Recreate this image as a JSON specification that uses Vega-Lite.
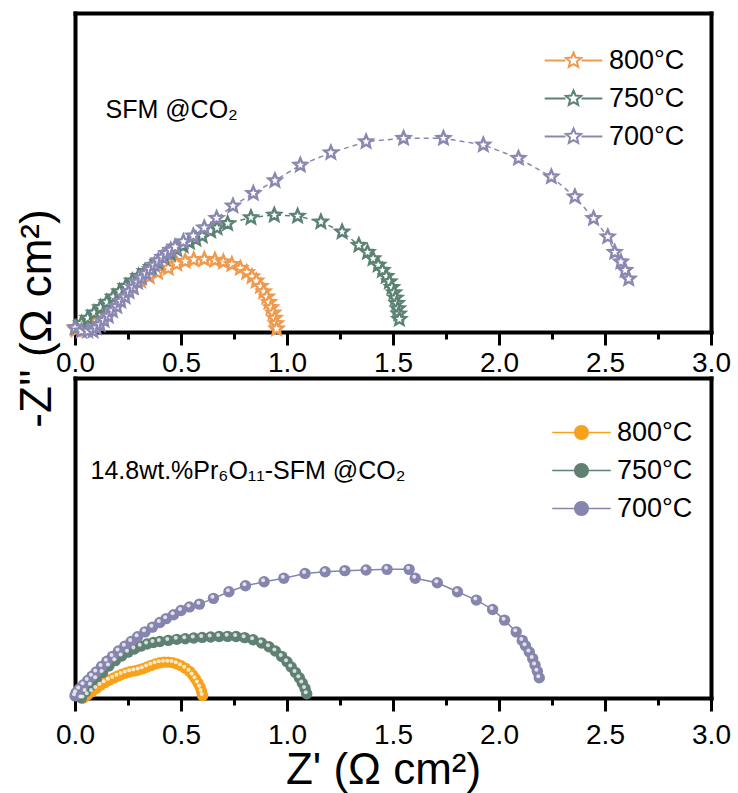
{
  "$schema": "https://vega.github.io/schema/vega-lite/v6.json",
  "autosize": {"type": "none"},
  "padding": {"left": 75, "top": 13, "right": 27, "bottom": 95},
  "width": 636,
  "height": 685,
  "config": {
    "font": "Liberation Sans",
    "view": {"stroke": null},
    "axis": {"labelFont": "Liberation Sans", "titleFont": "Liberation Sans", "labelColor": "black", "titleColor": "black", "titleFontWeight": "normal"},
    "legend": {"labelFont": "Liberation Sans", "labelColor": "black", "labelFontSize": 27, "rowPadding": 10, "symbolOpacity": 1}
  },
  "datasets": {
    "top": [
      {"s":"800°C","i":0,"zr":0.005,"zi":0.01},{"s":"800°C","i":1,"zr":0.03,"zi":0.03},{"s":"800°C","i":2,"zr":0.07,"zi":0.06},{"s":"800°C","i":3,"zr":0.11,"zi":0.09},{"s":"800°C","i":4,"zr":0.15,"zi":0.12},{"s":"800°C","i":5,"zr":0.19,"zi":0.15},{"s":"800°C","i":6,"zr":0.23,"zi":0.18},{"s":"800°C","i":7,"zr":0.27,"zi":0.21},{"s":"800°C","i":8,"zr":0.31,"zi":0.24},{"s":"800°C","i":9,"zr":0.35,"zi":0.26},{"s":"800°C","i":10,"zr":0.39,"zi":0.28},{"s":"800°C","i":11,"zr":0.44,"zi":0.30},{"s":"800°C","i":12,"zr":0.48,"zi":0.32},{"s":"800°C","i":13,"zr":0.52,"zi":0.333},{"s":"800°C","i":14,"zr":0.56,"zi":0.34},{"s":"800°C","i":15,"zr":0.61,"zi":0.342},{"s":"800°C","i":16,"zr":0.66,"zi":0.338},{"s":"800°C","i":17,"zr":0.70,"zi":0.33},{"s":"800°C","i":18,"zr":0.74,"zi":0.318},{"s":"800°C","i":19,"zr":0.78,"zi":0.30},{"s":"800°C","i":20,"zr":0.81,"zi":0.28},{"s":"800°C","i":21,"zr":0.835,"zi":0.26},{"s":"800°C","i":22,"zr":0.855,"zi":0.24},{"s":"800°C","i":23,"zr":0.875,"zi":0.215},{"s":"800°C","i":24,"zr":0.89,"zi":0.19},{"s":"800°C","i":25,"zr":0.905,"zi":0.165},{"s":"800°C","i":26,"zr":0.915,"zi":0.14},{"s":"800°C","i":27,"zr":0.925,"zi":0.115},{"s":"800°C","i":28,"zr":0.935,"zi":0.09},{"s":"800°C","i":29,"zr":0.942,"zi":0.065},{"s":"800°C","i":30,"zr":0.948,"zi":0.04},{"s":"800°C","i":31,"zr":0.951,"zi":0.015},
      {"s":"750°C","i":100,"zr":0.005,"zi":0.02},{"s":"750°C","i":101,"zr":0.03,"zi":0.04},{"s":"750°C","i":102,"zr":0.06,"zi":0.065},{"s":"750°C","i":103,"zr":0.09,"zi":0.09},{"s":"750°C","i":104,"zr":0.12,"zi":0.115},{"s":"750°C","i":105,"zr":0.15,"zi":0.14},{"s":"750°C","i":106,"zr":0.18,"zi":0.165},{"s":"750°C","i":107,"zr":0.21,"zi":0.19},{"s":"750°C","i":108,"zr":0.24,"zi":0.215},{"s":"750°C","i":109,"zr":0.27,"zi":0.24},{"s":"750°C","i":110,"zr":0.30,"zi":0.262},{"s":"750°C","i":111,"zr":0.33,"zi":0.285},{"s":"750°C","i":112,"zr":0.36,"zi":0.305},{"s":"750°C","i":113,"zr":0.39,"zi":0.327},{"s":"750°C","i":114,"zr":0.42,"zi":0.347},{"s":"750°C","i":115,"zr":0.45,"zi":0.367},{"s":"750°C","i":116,"zr":0.48,"zi":0.388},{"s":"750°C","i":117,"zr":0.51,"zi":0.405},{"s":"750°C","i":118,"zr":0.54,"zi":0.422},{"s":"750°C","i":119,"zr":0.57,"zi":0.437},{"s":"750°C","i":120,"zr":0.60,"zi":0.452},{"s":"750°C","i":121,"zr":0.64,"zi":0.475},{"s":"750°C","i":122,"zr":0.67,"zi":0.49},{"s":"750°C","i":123,"zr":0.72,"zi":0.51},{"s":"750°C","i":124,"zr":0.83,"zi":0.538},{"s":"750°C","i":125,"zr":0.94,"zi":0.55},{"s":"750°C","i":126,"zr":1.05,"zi":0.545},{"s":"750°C","i":127,"zr":1.16,"zi":0.518},{"s":"750°C","i":128,"zr":1.26,"zi":0.471},{"s":"750°C","i":129,"zr":1.339,"zi":0.408},{"s":"750°C","i":130,"zr":1.38,"zi":0.375},{"s":"750°C","i":131,"zr":1.406,"zi":0.345},{"s":"750°C","i":132,"zr":1.43,"zi":0.315},{"s":"750°C","i":133,"zr":1.45,"zi":0.29},{"s":"750°C","i":134,"zr":1.468,"zi":0.262},{"s":"750°C","i":135,"zr":1.483,"zi":0.237},{"s":"750°C","i":136,"zr":1.495,"zi":0.21},{"s":"750°C","i":137,"zr":1.505,"zi":0.185},{"s":"750°C","i":138,"zr":1.512,"zi":0.16},{"s":"750°C","i":139,"zr":1.518,"zi":0.135},{"s":"750°C","i":140,"zr":1.523,"zi":0.11},{"s":"750°C","i":141,"zr":1.527,"zi":0.085},{"s":"750°C","i":142,"zr":1.53,"zi":0.06},
      {"s":"700°C","i":200,"zr":0.0,"zi":0.02},{"s":"700°C","i":201,"zr":0.03,"zi":0.005},{"s":"700°C","i":202,"zr":0.06,"zi":0.005},{"s":"700°C","i":203,"zr":0.085,"zi":0.005},{"s":"700°C","i":204,"zr":0.10,"zi":0.02},{"s":"700°C","i":205,"zr":0.118,"zi":0.035},{"s":"700°C","i":206,"zr":0.137,"zi":0.055},{"s":"700°C","i":207,"zr":0.157,"zi":0.075},{"s":"700°C","i":208,"zr":0.177,"zi":0.1},{"s":"700°C","i":209,"zr":0.197,"zi":0.12},{"s":"700°C","i":210,"zr":0.216,"zi":0.145},{"s":"700°C","i":211,"zr":0.236,"zi":0.165},{"s":"700°C","i":212,"zr":0.255,"zi":0.19},{"s":"700°C","i":213,"zr":0.275,"zi":0.21},{"s":"700°C","i":214,"zr":0.295,"zi":0.235},{"s":"700°C","i":215,"zr":0.314,"zi":0.255},{"s":"700°C","i":216,"zr":0.334,"zi":0.275},{"s":"700°C","i":217,"zr":0.354,"zi":0.295},{"s":"700°C","i":218,"zr":0.374,"zi":0.315},{"s":"700°C","i":219,"zr":0.393,"zi":0.335},{"s":"700°C","i":220,"zr":0.413,"zi":0.352},{"s":"700°C","i":221,"zr":0.432,"zi":0.37},{"s":"700°C","i":222,"zr":0.452,"zi":0.385},{"s":"700°C","i":223,"zr":0.472,"zi":0.40},{"s":"700°C","i":224,"zr":0.511,"zi":0.425},{"s":"700°C","i":225,"zr":0.558,"zi":0.452},{"s":"700°C","i":226,"zr":0.61,"zi":0.49},{"s":"700°C","i":227,"zr":0.668,"zi":0.535},{"s":"700°C","i":228,"zr":0.745,"zi":0.593},{"s":"700°C","i":229,"zr":0.841,"zi":0.652},{"s":"700°C","i":230,"zr":0.943,"zi":0.712},{"s":"700°C","i":231,"zr":1.063,"zi":0.785},{"s":"700°C","i":232,"zr":1.207,"zi":0.843},{"s":"700°C","i":233,"zr":1.373,"zi":0.895},{"s":"700°C","i":234,"zr":1.55,"zi":0.911},{"s":"700°C","i":235,"zr":1.738,"zi":0.911},{"s":"700°C","i":236,"zr":1.926,"zi":0.88},{"s":"700°C","i":237,"zr":2.092,"zi":0.817},{"s":"700°C","i":238,"zr":2.247,"zi":0.73},{"s":"700°C","i":239,"zr":2.358,"zi":0.636},{"s":"700°C","i":240,"zr":2.446,"zi":0.534},{"s":"700°C","i":241,"zr":2.513,"zi":0.448},{"s":"700°C","i":242,"zr":2.546,"zi":0.375},{"s":"700°C","i":243,"zr":2.575,"zi":0.33},{"s":"700°C","i":244,"zr":2.595,"zi":0.29},{"s":"700°C","i":245,"zr":2.612,"zi":0.25}
    ],
    "bottom": [
      {"s":"800°C","i":0,"zr":0.04,"zi":0.0},{"s":"800°C","i":1,"zr":0.06,"zi":0.015},{"s":"800°C","i":2,"zr":0.08,"zi":0.03},{"s":"800°C","i":3,"zr":0.10,"zi":0.045},{"s":"800°C","i":4,"zr":0.12,"zi":0.06},{"s":"800°C","i":5,"zr":0.14,"zi":0.072},{"s":"800°C","i":6,"zr":0.16,"zi":0.083},{"s":"800°C","i":7,"zr":0.18,"zi":0.093},{"s":"800°C","i":8,"zr":0.20,"zi":0.102},{"s":"800°C","i":9,"zr":0.22,"zi":0.11},{"s":"800°C","i":10,"zr":0.24,"zi":0.117},{"s":"800°C","i":11,"zr":0.26,"zi":0.123},{"s":"800°C","i":12,"zr":0.28,"zi":0.127},{"s":"800°C","i":13,"zr":0.30,"zi":0.131},{"s":"800°C","i":14,"zr":0.32,"zi":0.137},{"s":"800°C","i":15,"zr":0.34,"zi":0.145},{"s":"800°C","i":16,"zr":0.36,"zi":0.153},{"s":"800°C","i":17,"zr":0.38,"zi":0.16},{"s":"800°C","i":18,"zr":0.40,"zi":0.165},{"s":"800°C","i":19,"zr":0.42,"zi":0.168},{"s":"800°C","i":20,"zr":0.44,"zi":0.168},{"s":"800°C","i":21,"zr":0.46,"zi":0.166},{"s":"800°C","i":22,"zr":0.48,"zi":0.16},{"s":"800°C","i":23,"zr":0.50,"zi":0.151},{"s":"800°C","i":24,"zr":0.52,"zi":0.14},{"s":"800°C","i":25,"zr":0.54,"zi":0.125},{"s":"800°C","i":26,"zr":0.555,"zi":0.108},{"s":"800°C","i":27,"zr":0.568,"zi":0.09},{"s":"800°C","i":28,"zr":0.58,"zi":0.07},{"s":"800°C","i":29,"zr":0.59,"zi":0.05},{"s":"800°C","i":30,"zr":0.597,"zi":0.03},{"s":"800°C","i":31,"zr":0.602,"zi":0.012},
      {"s":"750°C","i":100,"zr":0.03,"zi":0.0},{"s":"750°C","i":101,"zr":0.05,"zi":0.03},{"s":"750°C","i":102,"zr":0.075,"zi":0.06},{"s":"750°C","i":103,"zr":0.1,"zi":0.09},{"s":"750°C","i":104,"zr":0.13,"zi":0.12},{"s":"750°C","i":105,"zr":0.16,"zi":0.15},{"s":"750°C","i":106,"zr":0.19,"zi":0.175},{"s":"750°C","i":107,"zr":0.22,"zi":0.197},{"s":"750°C","i":108,"zr":0.25,"zi":0.215},{"s":"750°C","i":109,"zr":0.28,"zi":0.23},{"s":"750°C","i":110,"zr":0.31,"zi":0.243},{"s":"750°C","i":111,"zr":0.34,"zi":0.253},{"s":"750°C","i":112,"zr":0.37,"zi":0.26},{"s":"750°C","i":113,"zr":0.40,"zi":0.265},{"s":"750°C","i":114,"zr":0.44,"zi":0.27},{"s":"750°C","i":115,"zr":0.48,"zi":0.275},{"s":"750°C","i":116,"zr":0.52,"zi":0.278},{"s":"750°C","i":117,"zr":0.56,"zi":0.281},{"s":"750°C","i":118,"zr":0.60,"zi":0.284},{"s":"750°C","i":119,"zr":0.64,"zi":0.286},{"s":"750°C","i":120,"zr":0.68,"zi":0.288},{"s":"750°C","i":121,"zr":0.72,"zi":0.289},{"s":"750°C","i":122,"zr":0.76,"zi":0.288},{"s":"750°C","i":123,"zr":0.80,"zi":0.283},{"s":"750°C","i":124,"zr":0.84,"zi":0.273},{"s":"750°C","i":125,"zr":0.88,"zi":0.258},{"s":"750°C","i":126,"zr":0.915,"zi":0.24},{"s":"750°C","i":127,"zr":0.945,"zi":0.22},{"s":"750°C","i":128,"zr":0.975,"zi":0.195},{"s":"750°C","i":129,"zr":1.0,"zi":0.17},{"s":"750°C","i":130,"zr":1.02,"zi":0.145},{"s":"750°C","i":131,"zr":1.04,"zi":0.12},{"s":"750°C","i":132,"zr":1.058,"zi":0.095},{"s":"750°C","i":133,"zr":1.072,"zi":0.07},{"s":"750°C","i":134,"zr":1.085,"zi":0.045},{"s":"750°C","i":135,"zr":1.093,"zi":0.02},
      {"s":"700°C","i":200,"zr":0.0,"zi":0.01},{"s":"700°C","i":201,"zr":0.005,"zi":0.025},{"s":"700°C","i":202,"zr":0.02,"zi":0.042},{"s":"700°C","i":203,"zr":0.04,"zi":0.062},{"s":"700°C","i":204,"zr":0.06,"zi":0.082},{"s":"700°C","i":205,"zr":0.08,"zi":0.102},{"s":"700°C","i":206,"zr":0.10,"zi":0.122},{"s":"700°C","i":207,"zr":0.125,"zi":0.148},{"s":"700°C","i":208,"zr":0.15,"zi":0.172},{"s":"700°C","i":209,"zr":0.177,"zi":0.195},{"s":"700°C","i":210,"zr":0.205,"zi":0.22},{"s":"700°C","i":211,"zr":0.235,"zi":0.243},{"s":"700°C","i":212,"zr":0.265,"zi":0.265},{"s":"700°C","i":213,"zr":0.295,"zi":0.287},{"s":"700°C","i":214,"zr":0.33,"zi":0.31},{"s":"700°C","i":215,"zr":0.365,"zi":0.332},{"s":"700°C","i":216,"zr":0.40,"zi":0.354},{"s":"700°C","i":217,"zr":0.43,"zi":0.372},{"s":"700°C","i":218,"zr":0.465,"zi":0.39},{"s":"700°C","i":219,"zr":0.50,"zi":0.41},{"s":"700°C","i":220,"zr":0.54,"zi":0.427},{"s":"700°C","i":221,"zr":0.587,"zi":0.44},{"s":"700°C","i":222,"zr":0.653,"zi":0.467},{"s":"700°C","i":223,"zr":0.726,"zi":0.498},{"s":"700°C","i":224,"zr":0.804,"zi":0.526},{"s":"700°C","i":225,"zr":0.892,"zi":0.545},{"s":"700°C","i":226,"zr":0.985,"zi":0.561},{"s":"700°C","i":227,"zr":1.085,"zi":0.584},{"s":"700°C","i":228,"zr":1.18,"zi":0.592},{"s":"700°C","i":229,"zr":1.273,"zi":0.597},{"s":"700°C","i":230,"zr":1.373,"zi":0.600},{"s":"700°C","i":231,"zr":1.472,"zi":0.603},{"s":"700°C","i":232,"zr":1.576,"zi":0.603},{"s":"700°C","i":233,"zr":1.605,"zi":0.561},{"s":"700°C","i":234,"zr":1.709,"zi":0.540},{"s":"700°C","i":235,"zr":1.804,"zi":0.498},{"s":"700°C","i":236,"zr":1.893,"zi":0.459},{"s":"700°C","i":237,"zr":1.970,"zi":0.415},{"s":"700°C","i":238,"zr":2.026,"zi":0.365},{"s":"700°C","i":239,"zr":2.081,"zi":0.310},{"s":"700°C","i":240,"zr":2.11,"zi":0.27},{"s":"700°C","i":241,"zr":2.125,"zi":0.245},{"s":"700°C","i":242,"zr":2.143,"zi":0.216},{"s":"700°C","i":243,"zr":2.159,"zi":0.185},{"s":"700°C","i":244,"zr":2.170,"zi":0.155},{"s":"700°C","i":245,"zr":2.181,"zi":0.125},{"s":"700°C","i":246,"zr":2.19,"zi":0.095}
    ]
  },
  "layer": [
    {
      "data": {"name": "top"},
      "mark": {"type": "point", "opacity": 0},
      "encoding": {
        "x": {"field": "zr", "type": "quantitative", "scale": {"domain": [0, 3], "nice": false, "zero": false},
          "axis": {"orient": "top", "offset": 0, "title": null, "labels": false, "ticks": false, "grid": false, "domain": true, "domainWidth": 4, "domainColor": "black", "domainCap": "square"}},
        "y": {"field": "zi", "type": "quantitative", "scale": {"domain": [0, 1.5], "nice": false, "zero": false, "range": [319, 0]},
          "axis": {"orient": "right", "title": null, "labels": false, "ticks": false, "grid": false, "domain": true, "domainWidth": 4, "domainColor": "black", "domainCap": "square"}}
      }
    },
    {
      "data": {"name": "bottom"},
      "mark": {"type": "point", "opacity": 0},
      "encoding": {
        "x": {"field": "zr", "type": "quantitative", "scale": {"domain": [0, 3], "nice": false, "zero": false},
          "axis": {"orient": "top", "offset": -365, "title": null, "labels": false, "ticks": false, "grid": false, "domain": true, "domainWidth": 4, "domainColor": "black", "domainCap": "square"}},
        "y": {"field": "zi", "type": "quantitative", "scale": {"domain": [0, 1.5], "nice": false, "zero": false, "range": [685, 365]},
          "axis": {"orient": "right", "title": null, "labels": false, "ticks": false, "grid": false, "domain": true, "domainWidth": 4, "domainColor": "black", "domainCap": "square"}}
      }
    },
    {
      "data": {"name": "top"},
      "encoding": {
        "x": {"field": "zr", "type": "quantitative", "scale": {"domain": [0, 3], "nice": false, "zero": false},
          "axis": {"orient": "bottom", "offset": -366, "title": "SFM @CO₂", "titleFontSize": 25, "titleX": 30, "titleY": -215, "titleAlign": "left", "titleBaseline": "alphabetic", "titleAnchor": "start", "values": [0,0.25,0.5,0.75,1,1.25,1.5,1.75,2,2.25,2.5,2.75,3], "labelExpr": "datum.value % 0.5 == 0 ? format(datum.value, '.1f') : ''", "tickSize": 13, "tickDash": {"condition": {"test": "datum.value % 0.5 != 0", "value": [7, 30]}, "value": [13, 0]}, "tickWidth": 3, "tickColor": "black", "domain": true, "domainWidth": 4, "domainColor": "black", "domainCap": "square", "grid": false, "labelFontSize": 28, "labelPadding": 4, "labelFlush": false, "labelOverlap": false}},
        "y": {"field": "zi", "type": "quantitative", "scale": {"domain": [0, 1.5], "nice": false, "zero": false, "range": [319, 0]},
          "axis": {"orient": "left", "title": "-Z'' (Ω cm²)", "labels": false, "ticks": false, "grid": false, "domain": true, "domainWidth": 4, "domainColor": "black", "domainCap": "square", "titleFontSize": 44, "titleX": -25, "titleY": 305, "titleAlign": "center", "titleBaseline": "alphabetic", "titleAngle": 270}}
      },
      "layer": [
        {"mark": {"type": "line", "strokeDash": [5, 4], "strokeWidth": 1.5},
         "encoding": {"color": {"field": "s", "type": "nominal", "scale": {"domain": ["800°C", "750°C", "700°C"], "range": ["#EF9A4E", "#5B8272", "#8A88B1"]},
            "legend": {"title": null, "orient": "none", "legendX": 485, "legendY": 34, "symbolType": "M0,-1L0.265,-0.364L0.951,-0.309L0.428,0.139L0.588,0.809L0,0.45L-0.588,0.809L-0.428,0.139L-0.951,-0.309L-0.265,-0.364Z M-3.6,0L-1,0 M1,0L3.6,0", "symbolSize": 256, "symbolStrokeWidth": 2, "symbolFillColor": "white", "labelOffset": 22}},
           "order": {"field": "i", "type": "quantitative"}}},
        {"mark": {"type": "point", "shape": "M0,-1L0.265,-0.364L0.951,-0.309L0.428,0.139L0.588,0.809L0,0.45L-0.588,0.809L-0.428,0.139L-0.951,-0.309L-0.265,-0.364Z", "filled": false, "fill": "white", "strokeWidth": 2.4, "size": 190, "opacity": 1},
         "encoding": {"color": {"field": "s", "type": "nominal", "scale": {"domain": ["800°C", "750°C", "700°C"], "range": ["#EF9A4E", "#5B8272", "#8A88B1"]},
            "legend": {"title": null, "orient": "none", "legendX": 485, "legendY": 34, "symbolType": "M0,-1L0.265,-0.364L0.951,-0.309L0.428,0.139L0.588,0.809L0,0.45L-0.588,0.809L-0.428,0.139L-0.951,-0.309L-0.265,-0.364Z M-3.6,0L-1,0 M1,0L3.6,0", "symbolSize": 256, "symbolStrokeWidth": 2, "symbolFillColor": "white", "labelOffset": 22}},
           "order": {"field": "i", "type": "quantitative"}}}
      ]
    },
    {
      "data": {"name": "bottom"},
      "encoding": {
        "x": {"field": "zr", "type": "quantitative", "scale": {"domain": [0, 3], "nice": false, "zero": false},
          "axis": {"orient": "bottom", "offset": 0, "title": "Z' (Ω cm²)", "titleFontSize": 44, "titleX": 308, "titleY": 85, "titleAlign": "center", "titleBaseline": "alphabetic", "values": [0,0.25,0.5,0.75,1,1.25,1.5,1.75,2,2.25,2.5,2.75,3], "labelExpr": "datum.value % 0.5 == 0 ? format(datum.value, '.1f') : ''", "tickSize": 13, "tickDash": {"condition": {"test": "datum.value % 0.5 != 0", "value": [7, 30]}, "value": [13, 0]}, "tickWidth": 3, "tickColor": "black", "domain": true, "domainWidth": 4, "domainColor": "black", "domainCap": "square", "grid": false, "labelFontSize": 28, "labelPadding": 10, "labelFlush": false, "labelOverlap": false}},
        "y": {"field": "zi", "type": "quantitative", "scale": {"domain": [0, 1.5], "nice": false, "zero": false, "range": [685, 365]},
          "axis": {"orient": "left", "title": "14.8wt.%Pr₆O₁₁-SFM @CO₂", "titleFontSize": 25, "titleAngle": 0, "titleX": 15, "titleY": 465, "titleAlign": "left", "titleBaseline": "alphabetic", "labels": false, "ticks": false, "grid": false, "domain": true, "domainWidth": 4, "domainColor": "black", "domainCap": "square"}}
      },
      "layer": [
        {"mark": {"type": "line", "strokeWidth": 1.5},
         "encoding": {"color": {"field": "s", "type": "nominal", "scale": {"domain": ["800°C", "750°C", "700°C"], "range": ["#F8A21C", "#5F8072", "#8685AE"]},
            "legend": {"title": null, "orient": "none", "legendX": 493, "legendY": 406, "symbolType": "M-1,0A1,1 0 1,1 1,0A1,1 0 1,1 -1,0Z M-3.9,-0.1L-1,-0.1L-1,0.1L-3.9,0.1Z M1,-0.1L3.9,-0.1L3.9,0.1L1,0.1Z", "symbolSize": 225, "symbolStrokeWidth": 0, "labelOffset": 22}},
           "order": {"field": "i", "type": "quantitative"}}},
        {"mark": {"type": "point", "shape": "circle", "filled": true, "size": 130, "opacity": 1},
         "encoding": {"color": {"field": "s", "type": "nominal", "scale": {"domain": ["800°C", "750°C", "700°C"], "range": ["#F8A21C", "#5F8072", "#8685AE"]},
            "legend": {"title": null, "orient": "none", "legendX": 493, "legendY": 406, "symbolType": "M-1,0A1,1 0 1,1 1,0A1,1 0 1,1 -1,0Z M-3.9,-0.1L-1,-0.1L-1,0.1L-3.9,0.1Z M1,-0.1L3.9,-0.1L3.9,0.1L1,0.1Z", "symbolSize": 225, "symbolStrokeWidth": 0, "labelOffset": 22}},
           "order": {"field": "i", "type": "quantitative"}}},
        {"mark": {"type": "point", "shape": "circle", "filled": true, "size": 16, "opacity": 0.75, "color": "white", "xOffset": -1, "yOffset": -1.5}}
      ]
    }
  ],
  "resolve": {"scale": {"x": "independent", "y": "independent", "color": "independent"}, "axis": {"x": "independent", "y": "independent"}, "legend": {"color": "independent"}}
}
